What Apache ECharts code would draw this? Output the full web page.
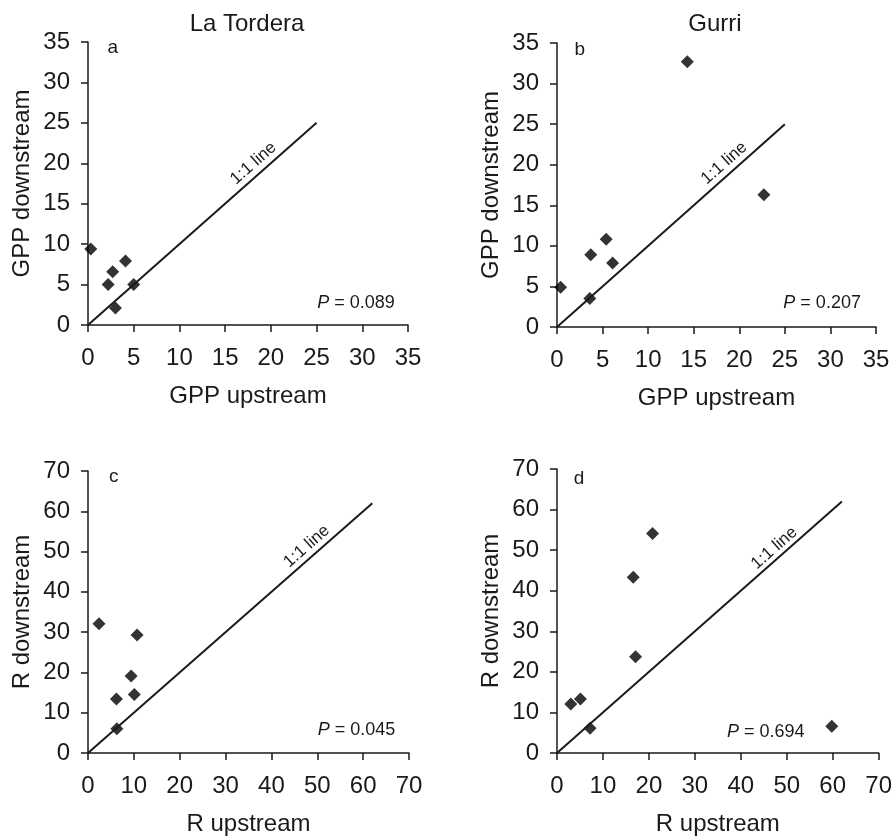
<!DOCTYPE html>
<html>
<head>
<meta charset="utf-8">
<script src="https://cdn.jsdelivr.net/npm/echarts@6/dist/echarts.min.js"></script>
<style>html,body{margin:0;padding:0;background:#fff;}#c{width:895px;height:840px;}</style>
</head>
<body>
<div id="c"></div>
<script>
// ---- data ----
const gppTicks = [0, 5, 10, 15, 20, 25, 30, 35];
const rTicks = [0, 10, 20, 30, 40, 50, 60, 70];
const panelTitles = ['La Tordera', 'Gurri'];
const panelLetters = ['a', 'b', 'c', 'd'];
const pValues = ['0.089', '0.207', '0.045', '0.694'];
const aUp = [0.3, 2.7, 4.1, 2.2, 5.0, 3.0];
const aDown = [9.4, 6.6, 7.9, 5.0, 5.0, 2.1];
const bUp = [14.3, 22.7, 5.4, 3.7, 6.1, 0.4, 3.6];
const bDown = [32.7, 16.3, 10.8, 8.9, 7.9, 4.9, 3.5];
const cUp = [2.4, 10.7, 9.4, 6.2, 10.1, 6.3];
const cDown = [32.1, 29.3, 19.1, 13.4, 14.5, 6.0];
const dUp = [20.8, 16.6, 17.1, 3.0, 5.1, 7.2, 59.8];
const dDown = [54.1, 43.3, 23.7, 12.1, 13.3, 6.1, 6.6];
const gppLineEnd = 25;
const rLineEnd = 62;

// ---- layout ----
const FONT = '"Liberation Sans", Arial, Helvetica, sans-serif';
const INK = '#1a1a1a';
const grids = [
  {left: 88, top: 42, width: 320, height: 283},
  {left: 557, top: 43, width: 319, height: 284},
  {left: 88, top: 471, width: 321, height: 282},
  {left: 557, top: 469, width: 322, height: 284}
];
const panels = [
  {up: aUp, down: aDown, ticks: gppTicks, lineEnd: gppLineEnd, xName: 'GPP upstream', yName: 'GPP downstream',
   labelAt: [18.1, 20.0], rot: 41.4, pAt: [33.6, 2.7], letterAt: [2.7, 34.3]},
  {up: bUp, down: bDown, ticks: gppTicks, lineEnd: gppLineEnd, xName: 'GPP upstream', yName: 'GPP downstream',
   labelAt: [18.35, 20.2], rot: 41.5, pAt: [33.4, 2.9], letterAt: [2.5, 34.2]},
  {up: cUp, down: cDown, ticks: rTicks, lineEnd: rLineEnd, xName: 'R upstream', yName: 'R downstream',
   labelAt: [47.7, 51.3], rot: 41.3, pAt: [67.1, 5.6], letterAt: [5.6, 68.6]},
  {up: dUp, down: dDown, ticks: rTicks, lineEnd: rLineEnd, xName: 'R upstream', yName: 'R downstream',
   labelAt: [47.3, 50.5], rot: 41.3, pAt: [54.0, 5.2], letterAt: [4.8, 67.5]}
];

const xAxes = [], yAxes = [], series = [];
panels.forEach((p, i) => {
  const tmin = p.ticks[0], tmax = p.ticks[p.ticks.length - 1], step = p.ticks[1] - p.ticks[0];
  const common = {
    gridIndex: i, type: 'value', min: tmin, max: tmax, interval: step,
    splitLine: {show: false},
    axisLine: {show: true, onZero: false, lineStyle: {color: INK, width: 1.5}},
    axisTick: {show: true, inside: false, length: 7, lineStyle: {color: INK, width: 1.5}},
    nameLocation: 'middle',
    nameTextStyle: {fontFamily: FONT, fontSize: 24, color: INK}
  };
  xAxes.push(Object.assign({}, common, {
    position: 'bottom', name: p.xName, nameGap: 59,
    axisLabel: {margin: 21, fontFamily: FONT, fontSize: 24, color: INK}
  }));
  yAxes.push(Object.assign({}, common, {
    position: 'left', name: p.yName, nameGap: 54, nameRotate: 90,
    axisLabel: {margin: 18, fontFamily: FONT, fontSize: 24, color: INK}
  }));
  const lbl = (extra) => Object.assign({show: true, color: INK, fontFamily: FONT}, extra);
  series.push({
    type: 'line', xAxisIndex: i, yAxisIndex: i, silent: true,
    data: [[0, 0], [p.lineEnd, p.lineEnd]],
    showSymbol: false, symbol: 'none',
    lineStyle: {color: INK, width: 2},
    markPoint: {
      symbol: 'circle', symbolSize: 1, itemStyle: {color: 'transparent'},
      data: [
        {name: 'line', coord: p.labelAt,
         label: lbl({position: 'inside', formatter: '1:1 line', fontSize: 17, rotate: p.rot})},
        {name: 'p', coord: p.pAt,
         label: lbl({position: 'left', distance: 0, fontSize: 18,
           formatter: '{i|P} = ' + pValues[i],
           rich: {i: {fontStyle: 'italic', fontSize: 18, fontFamily: FONT, color: INK}}})},
        {name: 'letter', coord: p.letterAt,
         label: lbl({position: 'inside', formatter: panelLetters[i], fontSize: 19})}
      ]
    }
  });
  series.push({
    type: 'scatter', xAxisIndex: i, yAxisIndex: i,
    data: p.up.map((u, k) => [u, p.down[k]]),
    symbol: 'diamond', symbolSize: 13,
    itemStyle: {color: '#000'}
  });
});

const chart = echarts.init(document.getElementById('c'), null, {renderer: 'canvas'});
chart.setOption({
  animation: false,
  backgroundColor: '#fff',
  graphic: [
    {type: 'text', x: 247, y: 24, style: {text: panelTitles[0], fill: INK, font: '24px ' + FONT, textAlign: 'center', textVerticalAlign: 'middle'}},
    {type: 'text', x: 715, y: 24, style: {text: panelTitles[1], fill: INK, font: '24px ' + FONT, textAlign: 'center', textVerticalAlign: 'middle'}}
  ],
  grid: grids,
  xAxis: xAxes,
  yAxis: yAxes,
  series: series
});
</script>
</body>
</html>
